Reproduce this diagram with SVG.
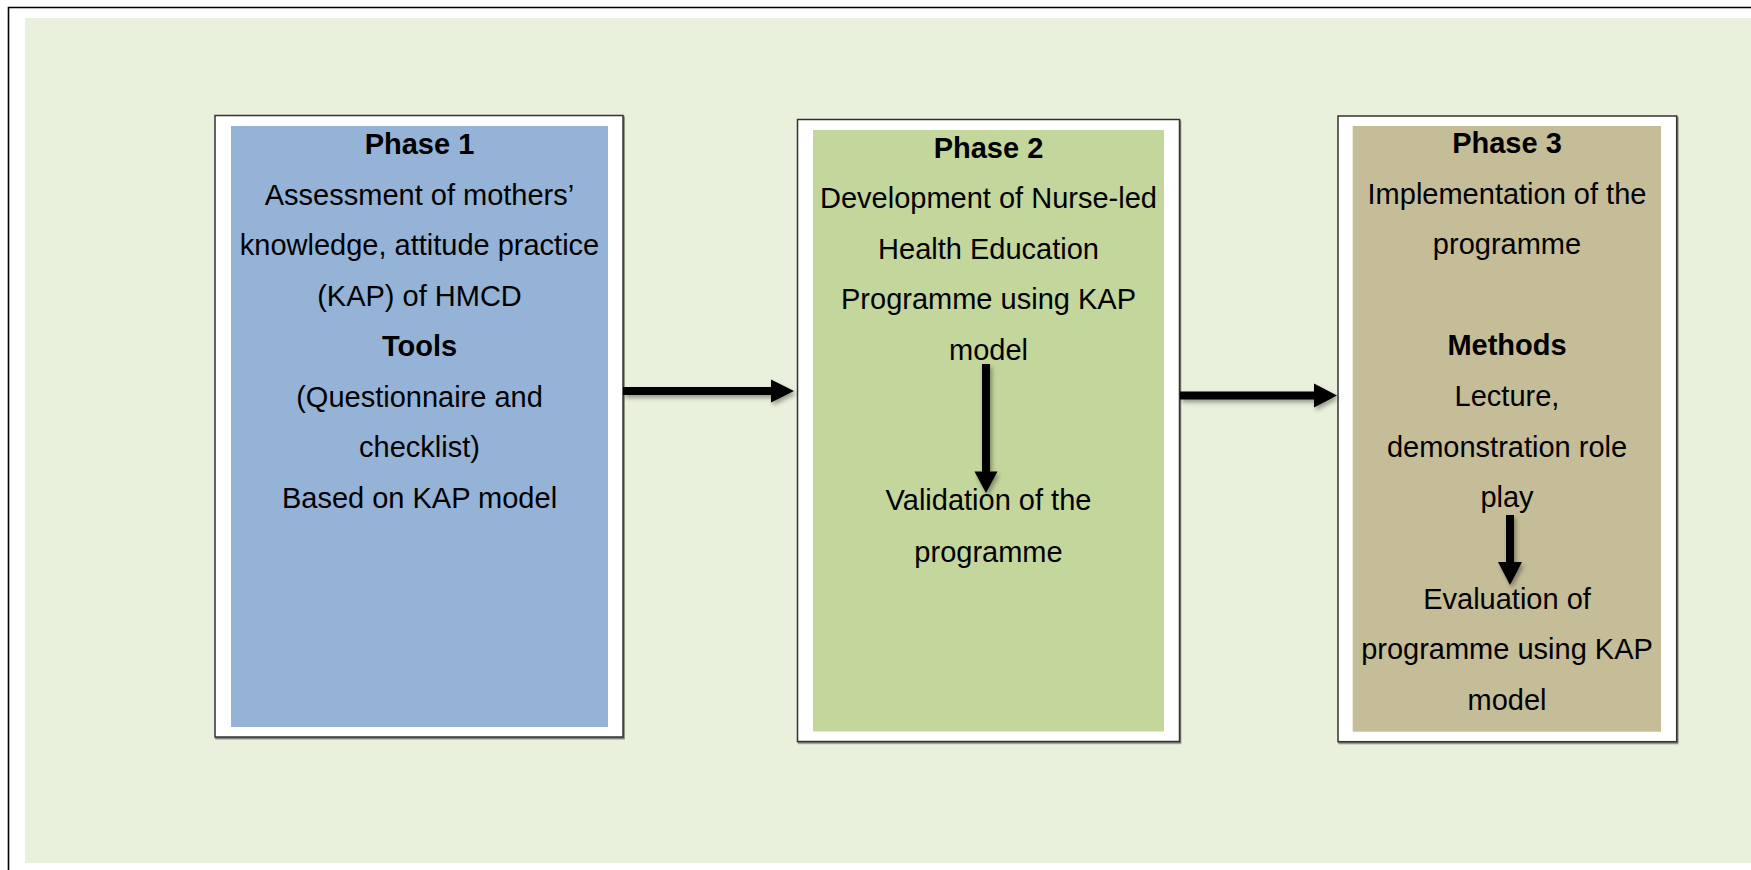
<svg xmlns="http://www.w3.org/2000/svg" width="1751" height="870" viewBox="0 0 1751 870">
<defs>
<filter id="sh" x="-20%" y="-20%" width="150%" height="160%">
<feDropShadow dx="2" dy="3" stdDeviation="2" flood-color="#000" flood-opacity="0.35"/>
</filter>
<filter id="bsh" x="-5%" y="-5%" width="110%" height="110%">
<feDropShadow dx="1" dy="1.5" stdDeviation="0.6" flood-color="#000" flood-opacity="0.5"/>
</filter>
</defs>
<style>
.frame{fill:#fff;stroke:#333;stroke-width:1.5}
.t{font-family:"Liberation Sans",Arial,sans-serif;font-size:29px;fill:#000;text-anchor:middle}
.b{font-weight:bold}
.arr{fill:#000;filter:url(#sh)}
</style>
<rect x="0" y="0" width="1751" height="870" fill="#fff"/>
<rect x="25" y="18" width="1726" height="845" fill="#E9F0DC"/>
<path d="M8.5 870 V7.5 H1751" fill="none" stroke="#000" stroke-width="1.6"/>

<g id="phase1">
<rect class="frame" x="215" y="115.5" width="408" height="621.5" filter="url(#bsh)"/>
<rect x="231" y="126" width="377" height="601" fill="#95B3D7"/>
<text class="t b" x="419.5" y="154">Phase 1</text>
<text class="t" x="419.5" y="204.5">Assessment of mothers’</text>
<text class="t" x="419.5" y="255">knowledge, attitude practice</text>
<text class="t" x="419.5" y="305.5">(KAP) of HMCD</text>
<text class="t b" x="419.5" y="356">Tools</text>
<text class="t" x="419.5" y="406.5">(Questionnaire and</text>
<text class="t" x="419.5" y="457">checklist)</text>
<text class="t" x="419.5" y="507.5">Based on KAP model</text>
</g>

<g id="phase2">
<rect class="frame" x="797.5" y="119.5" width="382" height="622" filter="url(#bsh)"/>
<rect x="813" y="130" width="351" height="601.5" fill="#C3D69B"/>
<text class="t b" x="988.5" y="157.7">Phase 2</text>
<text class="t" x="988.5" y="208">Development of Nurse-led</text>
<text class="t" x="988.5" y="258.5">Health Education</text>
<text class="t" x="988.5" y="309">Programme using KAP</text>
<text class="t" x="988.5" y="359.5">model</text>
<text class="t" x="988.5" y="510">Validation of the</text>
<text class="t" x="988.5" y="561.5">programme</text>
</g>

<g id="phase3">
<rect class="frame" x="1338" y="116" width="338.7" height="625.7" filter="url(#bsh)"/>
<rect x="1352.7" y="126" width="308.3" height="605.7" fill="#C4BD97"/>
<text class="t b" x="1507" y="153.3">Phase 3</text>
<text class="t" x="1507" y="203.5">Implementation of the</text>
<text class="t" x="1507" y="254">programme</text>
<text class="t b" x="1507" y="355">Methods</text>
<text class="t" x="1507" y="406">Lecture,</text>
<text class="t" x="1507" y="456.7">demonstration role</text>
<text class="t" x="1507" y="507.3">play</text>
<text class="t" x="1507" y="608.5">Evaluation of</text>
<text class="t" x="1507" y="659">programme using KAP</text>
<text class="t" x="1507" y="709.6">model</text>
</g>

<g id="connectors">
<path class="arr" d="M623 387 H771 V379.5 L794 391 L771 402.5 V395 H623 Z"/>
<path class="arr" d="M1180 391.5 H1314 V383.5 L1337 395.5 L1314 407.5 V399.5 H1180 Z"/>
<path class="arr" d="M982 364 H990 V471.5 H997.5 L986 493 L974.5 471.5 H982 Z"/>
<path class="arr" d="M1506 515 H1514 V562 H1522 L1510 585 L1498 562 H1506 Z"/>
</g>
</svg>
